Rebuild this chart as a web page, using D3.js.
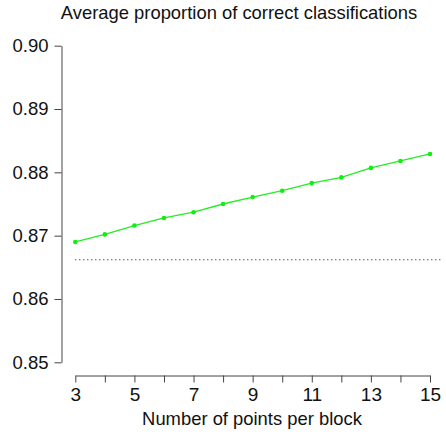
<!DOCTYPE html>
<html>
<head>
<meta charset="utf-8">
<script src="https://cdn.jsdelivr.net/npm/d3@7"></script>
<style>
  html, body { margin: 0; padding: 0; background: #fff; }
  svg { display: block; font-family: "Liberation Sans", Arial, Helvetica, sans-serif; }
</style>
</head>
<body>
<svg id="chart" width="446" height="435"></svg>
<script>
// Points per block and the average proportion classified correctly
const pointsPerBlock = [3, 4, 5, 6, 7, 8, 9, 10, 11, 12, 13, 14, 15];
const proportionCorrect = [0.8690, 0.8702, 0.8716, 0.8728, 0.8737, 0.8750, 0.8761,
                           0.8771, 0.8783, 0.8792, 0.8807, 0.8818, 0.8829];
// Reference level drawn as a dotted line
const referenceLevel = 0.8662;
const referenceSpan = [3, 15.45];

const xTickValues = [3, 4, 5, 6, 7, 8, 9, 10, 11, 12, 13, 14, 15];
const xTickLabels = ["3", "", "5", "", "7", "", "9", "", "11", "", "13", "", "15"];
const yTickValues = [0.85, 0.86, 0.87, 0.88, 0.89, 0.90];
const yTickLabels = ["0.85", "0.86", "0.87", "0.88", "0.89", "0.90"];

const titleText = "Average proportion of correct classifications";
const xTitleText = "Number of points per block";

const svg = d3.select("#chart");

const x = d3.scaleLinear().domain([3, 15]).range([75.3, 430]);
const y = d3.scaleLinear().domain([0.85, 0.90]).range([362.3, 45.7]);

// Title
svg.append("text")
  .attr("x", 239).attr("y", 18.5)
  .attr("text-anchor", "middle")
  .attr("font-size", 18.4)
  .attr("fill", "#111")
  .text(titleText);

// Y axis
const yAxis = d3.axisLeft(y)
  .tickValues(yTickValues)
  .tickFormat((d, i) => yTickLabels[i])
  .tickSizeInner(7).tickSizeOuter(0).tickPadding(6);
const gy = svg.append("g").attr("transform", "translate(61.5,0)").call(yAxis);
gy.select(".domain").attr("stroke", "#444");
gy.selectAll(".tick line").attr("stroke", "#444");
gy.selectAll(".tick text").attr("font-size", 18.5).attr("fill", "#111").attr("font-family", null);

// X axis (ticks point downward from the line)
const xAxis = d3.axisBottom(x)
  .tickValues(xTickValues)
  .tickFormat((d, i) => xTickLabels[i])
  .tickSizeInner(7).tickSizeOuter(0).tickPadding(5);
const gx = svg.append("g").attr("transform", "translate(0,375.5)").call(xAxis);
gx.select(".domain").attr("stroke", "#444");
gx.selectAll(".tick line").attr("stroke", "#444");
gx.selectAll(".tick text").attr("font-size", 19).attr("fill", "#111").attr("font-family", null);

// X axis title
svg.append("text")
  .attr("x", 252).attr("y", 425)
  .attr("text-anchor", "middle")
  .attr("font-size", 18.4)
  .attr("fill", "#111")
  .text(xTitleText);

// Dotted reference line
svg.append("line")
  .attr("x1", x(referenceSpan[0])).attr("x2", x(referenceSpan[1]))
  .attr("y1", y(referenceLevel)).attr("y2", y(referenceLevel))
  .attr("stroke", "#111")
  .attr("stroke-width", 1)
  .attr("stroke-dasharray", "1,3");

// Series line and points
const series = pointsPerBlock.map((p, i) => ({ p, v: proportionCorrect[i] }));
svg.append("path")
  .datum(series)
  .attr("fill", "none")
  .attr("stroke", "#22ee22")
  .attr("stroke-width", 1.3)
  .attr("d", d3.line().x(d => x(d.p)).y(d => y(d.v)));

svg.append("g").selectAll("circle")
  .data(series)
  .join("circle")
  .attr("cx", d => x(d.p))
  .attr("cy", d => y(d.v))
  .attr("r", 2.3)
  .attr("fill", "#11ee11");
</script>
</body>
</html>
